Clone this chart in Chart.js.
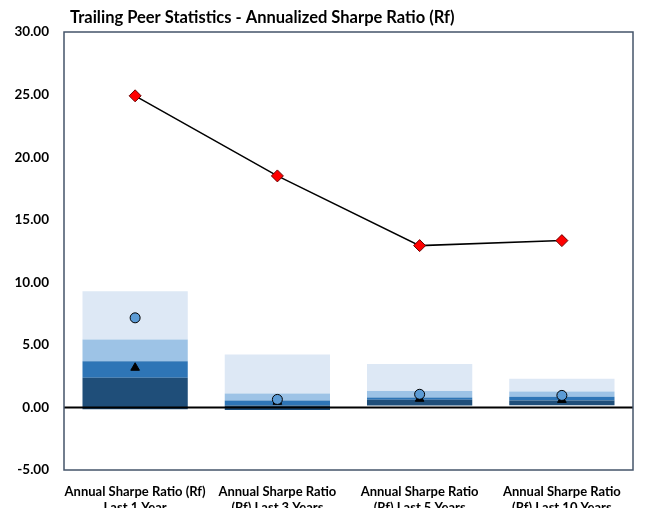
<!DOCTYPE html>
<html>
<head>
<meta charset="utf-8">
<script src="https://cdn.jsdelivr.net/npm/chart.js"></script>
<style>
  body { margin: 0; overflow: hidden; background: #fff; }
  #wrap { width: 651px; height: 520px; }
</style>
</head>
<body>
<div id="wrap"><canvas id="chart" width="651" height="520"></canvas></div>
<script>
// categories (two line labels)
var categories = [
	["Annual Sharpe Ratio (Rf)", "Last 1 Year"],
	["Annual Sharpe Ratio", "(Rf) Last 3 Years"],
	["Annual Sharpe Ratio", "(Rf) Last 5 Years"],
	["Annual Sharpe Ratio", "(Rf) Last 10 Years"]
];

// peer percentile bands
var pct5  = [-0.15, -0.20, 0.15, 0.18];
var pct25 = [2.37, 0.15, 0.62, 0.55];
var pct50 = [3.70, 0.56, 0.80, 0.85];
var pct75 = [5.43, 1.12, 1.32, 1.28];
var pct95 = [9.28, 4.23, 3.48, 2.29];

// markers
var fundValues = [7.16, 0.64, 1.05, 0.96];
var benchValues = [3.17, 0.45, 0.69, 0.60];
var indexValues = [24.9, 18.5, 12.93, 13.33];

var yTicks = { min: -5, max: 30, step: 5 };

function band(lo, hi) {
	var out = [];
	for (var i = 0; i < lo.length; i++) {
		out.push([lo[i], hi[i]]);
	}
	return out;
}

function barSet(data, color) {
	return {
		type: 'bar',
		data: data,
		backgroundColor: color,
		borderWidth: 0,
		grouped: false,
		categoryPercentage: 1,
		barPercentage: 0.74,
		order: 10
	};
}

/**
 * Frame, zero line and title drawn on top of the chart
 */
var extras = {
	id: 'extras',
	afterDatasetDraw: function(chart, args) {
		// zero line goes on top of the bars, under the markers
		if (args.index !== 3) return;
		var ctx = chart.ctx;
		var area = chart.chartArea;
		var y0 = chart.scales.y.getPixelForValue(0);
		ctx.save();
		ctx.strokeStyle = '#000';
		ctx.lineWidth = 2;
		ctx.beginPath();
		ctx.moveTo(area.left, y0);
		ctx.lineTo(area.right, y0);
		ctx.stroke();
		ctx.restore();
	},
	afterDraw: function(chart) {
		var ctx = chart.ctx;
		var area = chart.chartArea;
		ctx.save();
		ctx.strokeStyle = '#44546a';
		ctx.lineWidth = 1.5;
		ctx.strokeRect(area.left, area.top, area.right - area.left, area.bottom - area.top);
		ctx.fillStyle = '#000';
		ctx.font = 'bold 16.5px Lato';
		ctx.textBaseline = 'middle';
		ctx.textAlign = 'left';
		ctx.fillText('Trailing Peer Statistics - Annualized Sharpe Ratio (Rf)', area.left + 6, 18);
		ctx.restore();
	}
};

var ctx = document.getElementById('chart').getContext('2d');
var chart = new Chart(ctx, {
	data: {
		labels: categories,
		datasets: [
			{
				type: 'line',
				data: indexValues,
				borderColor: '#000',
				borderWidth: 1.5,
				pointStyle: 'rectRot',
				pointRadius: 6,
				pointBackgroundColor: '#ff0000',
				pointBorderColor: '#6b0000',
				pointBorderWidth: 1,
				order: 0
			},
			{
				type: 'line',
				data: fundValues,
				showLine: false,
				pointStyle: 'circle',
				pointRadius: 5,
				pointBackgroundColor: '#5b9bd5',
				pointBorderColor: '#000',
				pointBorderWidth: 1,
				order: 1
			},
			{
				type: 'line',
				data: benchValues,
				showLine: false,
				pointStyle: 'triangle',
				pointRadius: 5,
				pointBackgroundColor: '#000',
				pointBorderColor: '#000',
				pointBorderWidth: 1,
				order: 2
			},
			barSet(band(pct5, pct25), '#1f4e79'),
			barSet(band(pct25, pct50), '#2e75b6'),
			barSet(band(pct50, pct75), '#9dc3e6'),
			barSet(band(pct75, pct95), '#dde8f5')
		]
	},
	options: {
		responsive: false,
		animation: false,
		layout: { padding: { top: 32, right: 18, left: 0, bottom: 0 } },
		plugins: {
			legend: { display: false },
			tooltip: { enabled: false },
			title: { display: false }
		},
		scales: {
			x: {
				offset: true,
				grid: { display: false },
				border: { display: false },
				ticks: {
					color: '#000',
					font: { family: 'Lato', size: 13, weight: 'bold' },
					padding: 6,
					maxRotation: 0,
					autoSkip: false
				},
				afterFit: function(scale) { scale.height = 50; }
			},
			y: {
				min: yTicks.min,
				max: yTicks.max,
				grid: { display: false },
				border: { display: false },
				ticks: {
					stepSize: yTicks.step,
					color: '#000',
					font: { family: 'Lato', size: 13.5, weight: 'bold' },
					padding: 7,
					callback: function(v) { return v.toFixed(2); }
				},
				afterFit: function(scale) { scale.width = 64; }
			}
		}
	},
	plugins: [extras]
});
</script>
</body>
</html>
